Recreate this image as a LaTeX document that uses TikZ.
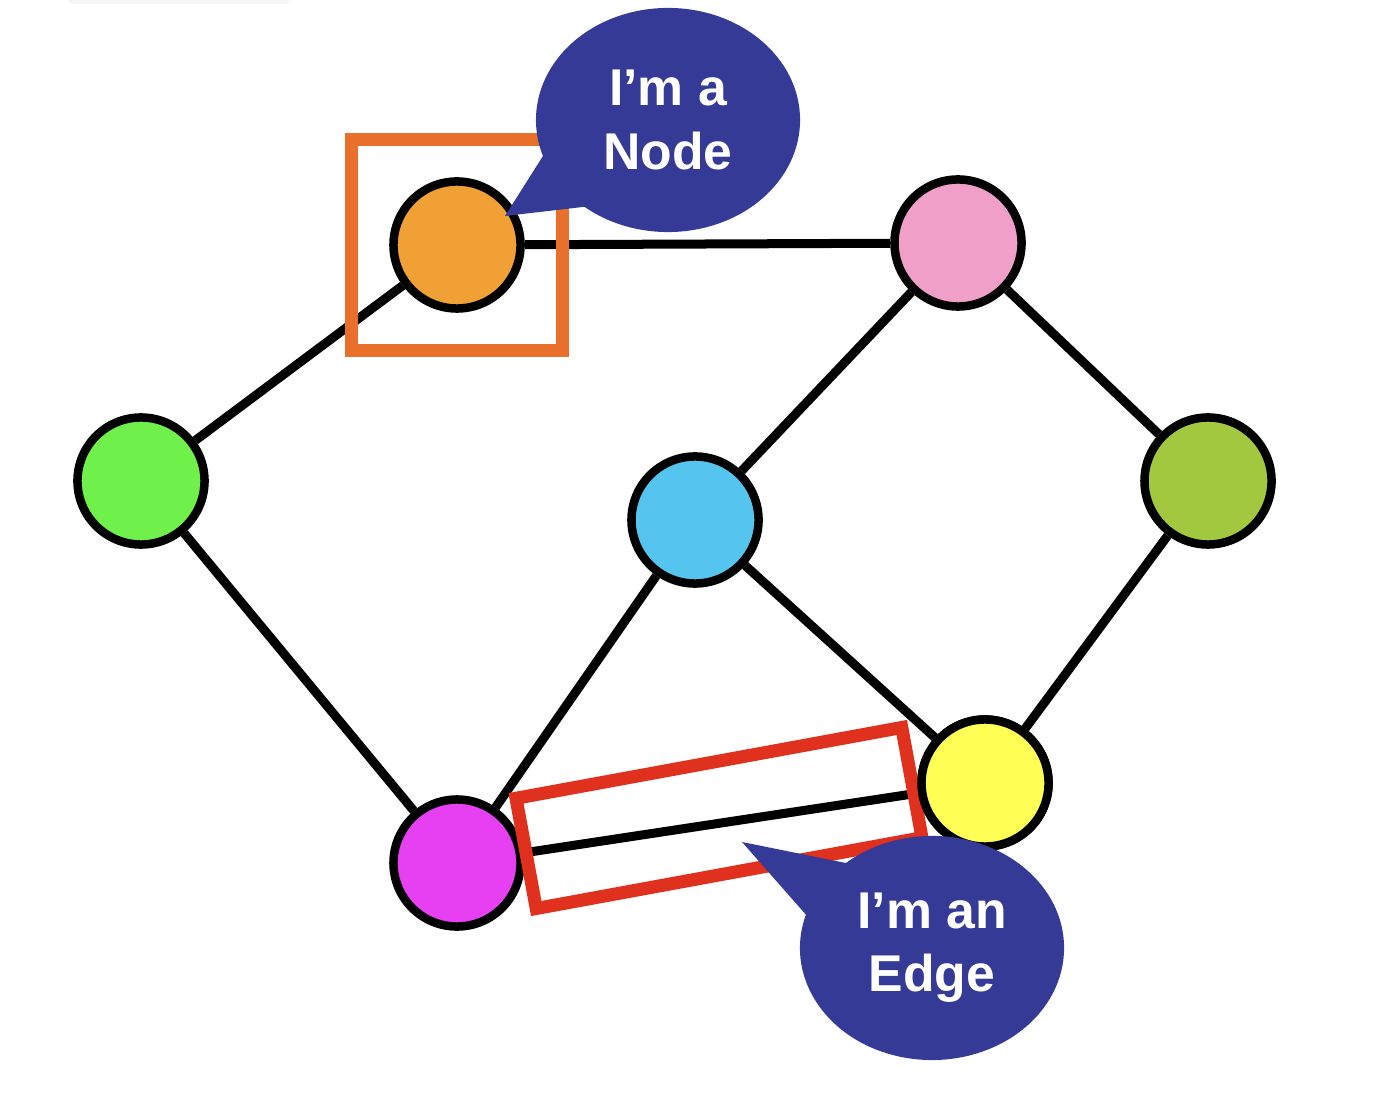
\documentclass[tikz,border=0pt]{standalone}
\usepackage{fontspec}
\setmainfont{Liberation Sans}
\usetikzlibrary{shapes.geometric, shapes.callouts, positioning, calc}
\definecolor{nodeorange}{HTML}{F0A035}
\definecolor{nodepink}{HTML}{F0A0C8}
\definecolor{nodegreen}{HTML}{70F04A}
\definecolor{nodecyan}{HTML}{55C5F0}
\definecolor{nodeolive}{HTML}{A2C840}
\definecolor{nodeyellow}{HTML}{FFFF55}
\definecolor{nodemagenta}{HTML}{E640F2}
\definecolor{boxorange}{HTML}{E8702A}
\definecolor{boxred}{HTML}{E0301E}
\definecolor{talkblue}{HTML}{343A96}
\definecolor{bargray}{HTML}{F4F5F7}

\begin{document}
\begin{tikzpicture}[x=0.01cm, y=-0.01cm,
  vertex/.style={circle, draw=black, line width=0.085cm, minimum size=1.27cm, inner sep=0pt},
  link/.style={draw=black, line width=0.09cm},
  highlight/.style={rectangle, line width=0.13cm, inner sep=0pt},
  talk/.style={ellipse callout, fill=talkblue, text=white, align=center,
    font=\fontsize{14.7}{18}\selectfont\bfseries,
    minimum width=2.64cm, minimum height=2.24cm, inner sep=0pt, callout pointer arc=32}]
  \useasboundingbox (0,0) rectangle (1386,1098);

  % Faint bar at the top edge
  \fill[bargray, rounded corners=0.05cm] (68,-10) rectangle (290,4);

  % Nodes
  \foreach \name/\x/\y/\col in {
    orange/457/245/nodeorange,
    pink/958/243/nodepink,
    green/141/481/nodegreen,
    cyan/695/520/nodecyan,
    olive/1208/481/nodeolive,
    yellow/985/783/nodeyellow,
    magenta/457/863/nodemagenta} {
    \node[vertex, fill=\col] (\name) at (\x,\y) {};
  }

  % Edges
  \foreach \a/\b in {orange/pink, orange/green, pink/cyan, pink/olive,
    green/magenta, cyan/magenta, cyan/yellow, olive/yellow, magenta/yellow} {
    \draw[link] (\a) -- (\b);
  }

  % Highlight boxes
  \node[highlight, draw=boxorange, minimum size=2.11cm] (nodebox) at (orange) {};
  \node[highlight, draw=boxred, minimum width=3.92cm, minimum height=1.12cm, rotate=10.4]
    (edgebox) at ($(magenta)!0.5!(yellow)+(-2,-5)$) {};
  \node[vertex, fill=nodeyellow] at (yellow) {};

  % Callouts
  \coordinate (nodetip) at (505,216);
  \coordinate (edgetip) at (742,842);
  \node[talk, callout absolute pointer={(nodetip)}] (nodetalk) at (668,120) {I’m a\\Node};
  \node[talk, callout absolute pointer={(edgetip)}] (edgetalk) at (932,948) {I’m an\\Edge};
\end{tikzpicture}
\end{document}
